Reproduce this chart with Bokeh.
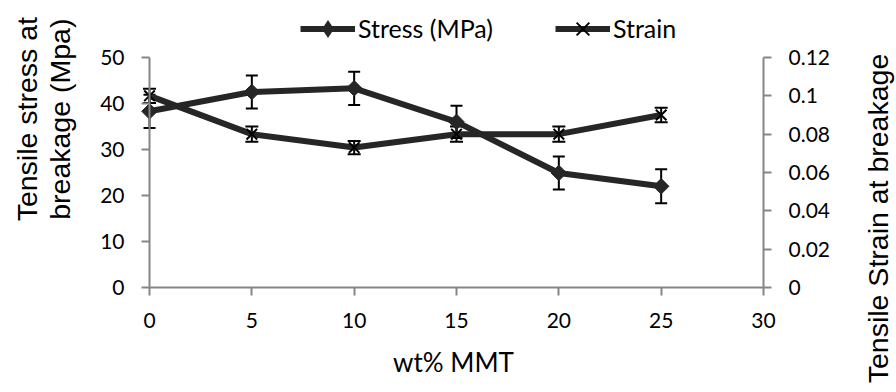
import math
import numpy as np
from bokeh.plotting import figure
from bokeh.models import (Range1d, LinearAxis, FixedTicker, CustomJSTickFormatter,
                          Whisker, TeeHead, ColumnDataSource, Legend, LegendItem, Label)
from bokeh.embed import file_html
from bokeh.resources import INLINE

# ---- data ----
wt_mmt = [0, 5, 10, 15, 20, 25]
stress = [38.3, 42.5, 43.3, 36.0, 24.9, 22.0]
stress_err = [3.6, 3.6, 3.6, 3.5, 3.6, 3.7]
strain = [0.100, 0.080, 0.073, 0.080, 0.080, 0.090]
strain_err = [0.0037, 0.004, 0.0035, 0.004, 0.004, 0.0038]
x_ticks = [0, 5, 10, 15, 20, 25, 30]
stress_ticks = [0, 10, 20, 30, 40, 50]
strain_ticks = [0, 0.02, 0.04, 0.06, 0.08, 0.1, 0.12]
X_MIN, X_MAX = 0, 30
S_MIN, S_MAX = 0, 50
E_MIN, E_MAX = 0, 0.12

DARK = "#262626"
AXIS = "#868686"
TICK_FONT = "Lato"
TITLE_FONT = "Liberation Sans"

# ---- layout (pixels on the canvas) ----
W, H = 896, 392
PL, PR, PT, PB = 149, 133, 57, 105  # plot-area margins
fw, fh = W - PL - PR, H - PT - PB


def padded(lo, hi, before, after, span):
    k = (hi - lo) / span
    return Range1d(lo - before * k, hi + after * k)


p = figure(width=W, height=H, output_backend="svg", toolbar_location=None,
           x_range=padded(X_MIN, X_MAX, PL, PR, fw),
           y_range=padded(S_MIN, S_MAX, PB, PT, fh),
           min_border=0, x_axis_location=None, y_axis_location=None)
p.outline_line_color = None
p.xgrid.visible = False
p.ygrid.visible = False
p.extra_y_ranges = {"strain": padded(E_MIN, E_MAX, PB, PT, fh)}

xaxis = LinearAxis(ticker=FixedTicker(ticks=x_ticks), bounds=(X_MIN, X_MAX),
                   fixed_location=S_MIN)
yaxis = LinearAxis(ticker=FixedTicker(ticks=stress_ticks), bounds=(S_MIN, S_MAX),
                   fixed_location=X_MIN)
raxis = LinearAxis(y_range_name="strain", ticker=FixedTicker(ticks=strain_ticks),
                   bounds=(E_MIN, E_MAX), fixed_location=X_MAX,
                   formatter=CustomJSTickFormatter(code="return String(parseFloat(tick.toFixed(2)));"))
p.add_layout(xaxis, "below")
p.add_layout(yaxis, "left")
p.add_layout(raxis, "right")

for ax in [xaxis, yaxis, raxis]:
    ax.axis_line_color = AXIS
    ax.axis_line_width = 2
    ax.major_tick_line_color = AXIS
    ax.major_tick_line_width = 2
    ax.major_tick_out = 8
    ax.major_tick_in = 0
    ax.minor_tick_line_color = None
    ax.major_label_text_font = TICK_FONT
    ax.major_label_text_font_size = "21px"
    ax.major_label_text_color = "black"
    ax.major_label_standoff = 17

# ---- strain series ----
src_strain = ColumnDataSource(dict(x=wt_mmt, y=strain,
                                   upper=list(np.array(strain) + np.array(strain_err)),
                                   lower=list(np.array(strain) - np.array(strain_err))))
l2 = p.line("x", "y", source=src_strain, y_range_name="strain", line_width=6,
            line_color=DARK, line_join="round")
s2 = p.scatter("x", "y", source=src_strain, y_range_name="strain", marker="x",
               size=15, line_width=2, line_color="black")
w2 = Whisker(base="x", upper="upper", lower="lower", source=src_strain,
             y_range_name="strain", line_width=2, line_color="black",
             upper_head=TeeHead(size=13, line_width=2, line_color="black"),
             lower_head=TeeHead(size=13, line_width=2, line_color="black"))
p.add_layout(w2)

# ---- stress series ----
src_stress = ColumnDataSource(dict(x=wt_mmt, y=stress,
                                   upper=list(np.array(stress) + np.array(stress_err)),
                                   lower=list(np.array(stress) - np.array(stress_err))))
l1 = p.line("x", "y", source=src_stress, line_width=6, line_color=DARK, line_join="round")
s1 = p.scatter("x", "y", source=src_stress, marker="square", angle=math.pi / 4,
               size=11, fill_color=DARK, line_color=DARK, line_width=1)
# legend-only diamond (zero size in the plot, sized by the legend itself)
s1_leg = p.scatter("x", "y", source=src_stress, marker="diamond", size=0,
                   fill_color=DARK, line_color=None)
w1 = Whisker(base="x", upper="upper", lower="lower", source=src_stress,
             line_width=2, line_color="black",
             upper_head=TeeHead(size=12, line_width=2, line_color="black"),
             lower_head=TeeHead(size=12, line_width=2, line_color="black"))
p.add_layout(w1)

# ---- legend ----
legend = Legend(items=[LegendItem(label="Stress (MPa)", renderers=[l1, s1_leg]),
                       LegendItem(label="Strain", renderers=[l2, s2])],
                location=(300, 341.5), orientation="horizontal",
                padding=0, margin=0, spacing=62, glyph_width=55, glyph_height=45,
                label_height=45, label_standoff=3,
                label_text_font=TICK_FONT, label_text_font_size="25px",
                label_text_color="black", border_line_color=None,
                background_fill_alpha=0)
p.add_layout(legend, "center")


# ---- axis titles ----
def title(text, x, y, angle, size="28.5px", font=TITLE_FONT):
    p.add_layout(Label(x=x, y=y, x_units="screen", y_units="screen", text=text,
                       angle=angle, text_align="center", text_baseline="alphabetic",
                       text_font=font, text_font_size=size, text_color="black"))


title("Tensile stress at", 26.0, 273.3, math.pi / 2)
title("breakage (Mpa)", 59.0, 273.3, math.pi / 2)
title("Tensile Strain at breakage", 877, 174, math.pi / 2)
title("wt% MMT", 453, 30.5, 0, size="26px", font=TICK_FONT)

open("out.html", "w").write(file_html(p, INLINE))
